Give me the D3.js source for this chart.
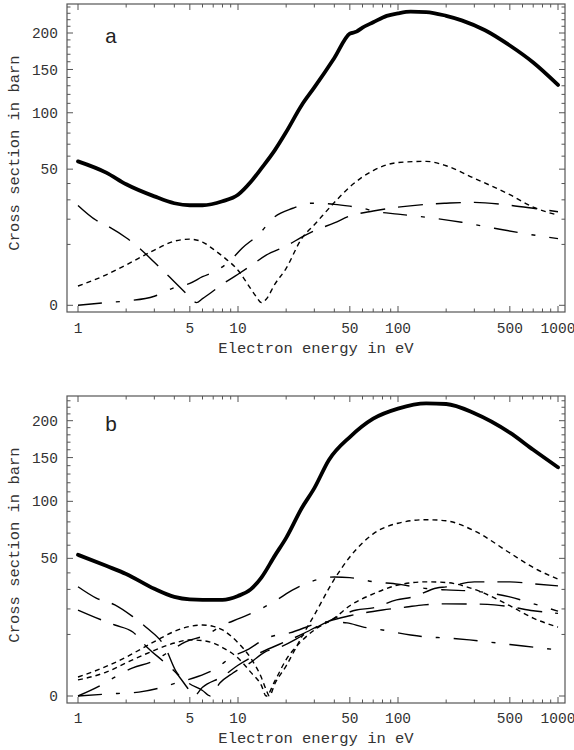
<!DOCTYPE html>
<html><head><meta charset="utf-8">
<script src="https://cdn.jsdelivr.net/npm/d3@7"></script>
<style>body{margin:0;background:#fff}svg{display:block}</style>
</head><body>
<svg id="chart" width="574" height="750"></svg>
<script>
// ---- tick labels / texts ----
const xTicksMajor = [1, 5, 10, 50, 100, 500, 1000];
const yTicksMajor = [0, 50, 100, 150, 200];
const xLabel = "Electron energy in eV";
const yLabel = "Cross section in barn";
const panelNames = ["a", "b"];

// ---- panel a series: [energy eV, cross section barn] ----
const totalA = [[1,55.9],[1.5,47.5],[2,39.5],[3,32],[4,28.1],[5,27],[6,27],[8,29.2],[10,33],[12,41],[14,50.6],[17,65],[20,81],[25,108],[30,128],[40,165],[50,199],[55,202],[60,208],[70,216],[85,226],[100,230],[120,232.6],[150,232],[200,226],[250,219],[350,204],[500,182],[700,159],[1000,131]];
const shortA = [[1,1.0],[1.5,2.5],[2,4.4],[3,8.2],[4,11.1],[5,11.8],[6,10.8],[7,8.5],[8,6.5],[10,3.3],[12,0.75],[13,0.2],[14,0.02],[15,0.1],[17,1.2],[20,3.7],[25,12],[30,17.5],[40,28.5],[50,37.8],[70,49],[100,55],[150,55.9],[200,52.5],[300,43.5],[500,33],[700,26],[1000,21.9]];
const longA = [[1,26.9],[1.3,19.5],[1.5,17.3],[2,12.3],[2.5,8.2],[3,5.0],[4,1.5],[5,0.19],[5.5,0.02],[6,0.12],[7,0.55],[8,1.2],[10,2.6],[12,4.2],[15,6.8],[20,9.5],[25,12.5],[30,15],[40,18.3],[50,21.5],[70,24],[100,26],[150,27.5],[200,28.1],[300,28.6],[500,27],[700,25.4],[1000,23.6]];
const dashDotA = [[1,0],[1.5,0.02],[2,0.05],[3,0.22],[4,0.85],[5,1.3],[6,2.2],[7.4,3.3],[9,5.5],[10.6,8.8],[13.7,14],[16.5,20.4],[22,25.4],[29,28.1],[40,27.5],[50,26.5],[60,25.5],[70,24],[100,22.4],[150,20.9],[250,18.6],[400,16],[600,14],[1000,12]];

// ---- panel b series ----
const totalB = [[1,52.6],[1.5,44.7],[2,39.3],[3,30.3],[4,25.9],[5,24.6],[6,24.4],[8,24.4],[10,26.4],[12,30],[14,37],[17,52],[20,66],[25,93],[30,114],[37,147],[50,177],[70,203],[100,218],[150,226],[200,225],[300,211],[500,183],[700,160],[1000,138]];
const shortB1 = [[1,0.95],[1.5,2.3],[2,4.0],[3,7.8],[4,11],[5,12.8],[6,13.3],[7,12.8],[8,11.5],[10,7.5],[12,3.8],[14,0.9],[15,0.1],[15.7,0],[17,0.4],[20,2.4],[25,9.2],[30,17.3],[40,36],[50,51],[70,69.4],[100,78.8],[150,82],[200,81],[300,72],[500,54],[700,43.6],[1000,36]];
const shortB2 = [[1,0.68],[1.5,1.5],[2,2.9],[3,5.5],[4,7.4],[5,8.3],[6,8.1],[7,7.4],[8,6.2],[10,3.8],[12,1.5],[14,0.3],[15,0],[17,0.6],[20,3.5],[25,8],[30,11.5],[40,16],[50,21.5],[70,27.5],[100,32.5],[150,34.4],[200,34],[300,30],[500,21.5],[700,16],[1000,12.5]];
const longB1 = [[1,31.5],[1.3,25.3],[1.7,21.9],[2.2,16.6],[2.7,12.2],[3.5,6.3],[4.1,1.6],[4.9,0.45],[6,0.08],[6.7,0],[7.7,0.45],[9.3,1.4],[11.9,2.9],[14.7,5.1],[18.3,6.3],[25,9.5],[36,14.5],[55,19.5],[70,20.5],[98,24.4],[124,25.9],[175,30.8],[200,31.4],[300,34.4],[500,34.4],[700,33.2],[1000,32]];
const longB2 = [[1,19.5],[1.4,15.3],[1.7,13.3],[2.2,10.8],[2.7,6.3],[3.5,2.9],[4.2,1.2],[4.8,0.2],[5.3,0],[6,0.2],[8,1.0],[10,2.5],[13,4.5],[18,7],[25,10],[36,14.5],[50,17],[80,19.5],[113,20.9],[145,21.9],[200,22.4],[300,22.3],[400,21.9],[500,21],[700,19.2],[1000,18]];
const dashDotB1 = [[1,0],[1.4,0.32],[1.7,0.95],[2.2,2.1],[2.9,3.1],[3.5,4.6],[4,6.0],[4.7,7.7],[6.3,9.8],[8.1,13.3],[10.3,16],[14.3,20.5],[17.5,24.4],[22,29.7],[31,35.6],[40,37.4],[50,37],[70,34.5],[100,33],[150,30.5],[200,29.7],[300,29],[500,25.9],[700,22.5],[1000,19]];
const dashDotB2 = [[1,0],[1.5,0.01],[2.4,0.04],[3.4,0.21],[4.1,0.45],[5.5,0.95],[7.5,2.2],[8.9,3.8],[11.4,5.6],[15.2,8.9],[21,10.5],[36,14.5],[48,14.1],[60,12.6],[80,11.5],[120,9.8],[150,9.2],[200,8.9],[280,8.3],[500,7],[700,6.3],[1000,5.6]];

// ---- styles ----
const STY = {
  total: {w: 3.8, dash: null},
  short: {w: 1.4, dash: "5,4"},
  long: {w: 1.4, dash: "25,13"},
  dashdot: {w: 1.4, dash: "24,14,4,14"}
};

const panels = [
  {name: panelNames[0], top: 4, bottom: 312, y0: 305.3, y200: 33,
   series: [[totalA,"total"],[shortA,"short"],[longA,"long"],[dashDotA,"dashdot"]],
   labelY: 328, titleY: 348, nameY: 43, yTitleY: 153},
  {name: panelNames[1], top: 396, bottom: 703, y0: 696, y200: 420.7,
   series: [[totalB,"total"],[shortB1,"short"],[shortB2,"short"],[longB1,"long"],[longB2,"long"],[dashDotB1,"dashdot"],[dashDotB2,"dashdot"]],
   labelY: 718, titleY: 738, nameY: 431, yTitleY: 545}
];

const left = 67, right = 565;
const x = d3.scaleLog().domain([1, 1000]).range([78, 558]);

const svg = d3.select("#chart");
const font = "'Liberation Mono', 'Courier New', monospace";
const frameCol = "#555";

const minorX = [];
[1, 10, 100].forEach(d => { for (let k = 2; k <= 9; k++) minorX.push(d * k); });
const minorY = d3.range(10, 250, 10).filter(v => v % 50 !== 0);

panels.forEach((p, i) => {
  const y = d3.scaleSqrt().domain([0, 200]).range([p.y0, p.y200]);
  const g = svg.append("g");

  g.append("clipPath").attr("id", "clip" + i).append("rect")
    .attr("x", left).attr("y", p.top).attr("width", right - left).attr("height", p.bottom - p.top);

  g.append("rect").attr("x", left).attr("y", p.top).attr("width", right - left).attr("height", p.bottom - p.top)
    .attr("fill", "none").attr("stroke", frameCol).attr("stroke-width", 1.2);

  const tk = g.append("g").attr("stroke", frameCol).attr("stroke-width", 1);
  xTicksMajor.forEach(v => {
    tk.append("line").attr("x1", x(v)).attr("x2", x(v)).attr("y1", p.bottom).attr("y2", p.bottom - 6);
    tk.append("line").attr("x1", x(v)).attr("x2", x(v)).attr("y1", p.top).attr("y2", p.top + 6);
  });
  minorX.filter(v => !xTicksMajor.includes(v)).forEach(v => {
    tk.append("line").attr("x1", x(v)).attr("x2", x(v)).attr("y1", p.bottom).attr("y2", p.bottom - 3.5);
    tk.append("line").attr("x1", x(v)).attr("x2", x(v)).attr("y1", p.top).attr("y2", p.top + 3.5);
  });
  yTicksMajor.forEach(v => {
    tk.append("line").attr("x1", left).attr("x2", left + 6).attr("y1", y(v)).attr("y2", y(v));
    tk.append("line").attr("x1", right).attr("x2", right - 6).attr("y1", y(v)).attr("y2", y(v));
  });
  minorY.filter(v => y(v) > p.top + 1).forEach(v => {
    tk.append("line").attr("x1", left).attr("x2", left + 3.5).attr("y1", y(v)).attr("y2", y(v));
    tk.append("line").attr("x1", right).attr("x2", right - 3.5).attr("y1", y(v)).attr("y2", y(v));
  });

  g.selectAll(".xl").data(xTicksMajor).enter().append("text")
    .attr("x", d => x(d)).attr("y", p.labelY).attr("dy", "0.35em")
    .attr("text-anchor", "middle").attr("font-family", font).attr("font-size", 14.5).attr("fill", "#333")
    .text(d => d);
  g.selectAll(".yl").data(yTicksMajor).enter().append("text")
    .attr("x", 58).attr("y", d => y(d)).attr("dy", "0.35em")
    .attr("text-anchor", "end").attr("font-family", font).attr("font-size", 14.5).attr("fill", "#333")
    .text(d => d);

  g.append("text").attr("x", (left + right) / 2).attr("y", p.titleY).attr("dy", "0.35em")
    .attr("text-anchor", "middle").attr("font-family", font).attr("font-size", 15.5).attr("fill", "#333")
    .text(xLabel);
  g.append("text").attr("transform", `translate(14,${p.yTitleY}) rotate(-90)`).attr("dy", "0.35em")
    .attr("text-anchor", "middle").attr("font-family", font).attr("font-size", 15.5).attr("fill", "#333")
    .text(yLabel);

  g.append("text").attr("x", 111).attr("y", p.nameY).attr("text-anchor", "middle")
    .attr("font-family", font).attr("font-size", 21).attr("fill", "#222").text(p.name);

  const line = d3.line().x(d => x(d[0])).y(d => y(d[1])).curve(d3.curveMonotoneX);
  const cg = g.append("g").attr("clip-path", `url(#clip${i})`);
  p.series.slice().reverse().forEach(([data, type]) => {
    const s = STY[type];
    cg.append("path").datum(data).attr("d", line)
      .attr("fill", "none").attr("stroke", "#000").attr("stroke-width", s.w)
      .attr("stroke-linejoin", "round")
      .attr("stroke-linecap", type === "total" ? "round" : "butt")
      .attr("stroke-dasharray", s.dash);
  });
});
</script>
</body></html>
